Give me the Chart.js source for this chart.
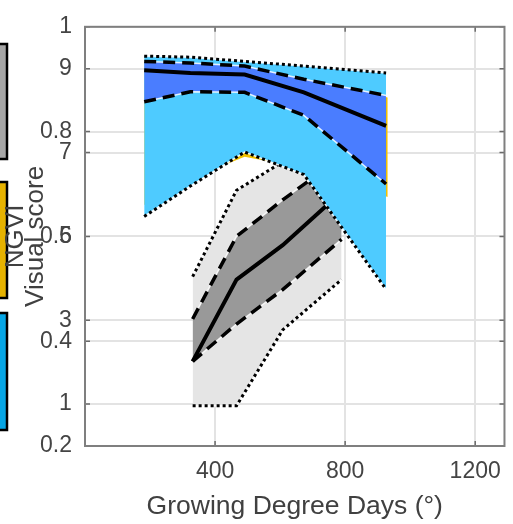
<!DOCTYPE html>
<html>
<head>
<meta charset="utf-8">
<script src="https://cdn.jsdelivr.net/npm/chart.js@4.4.1/dist/chart.umd.min.js"></script>
<style>
  html, body { margin: 0; padding: 0; background: #fff; }
  canvas { display: block; }
</style>
</head>
<body>
<canvas id="chart" width="513" height="524"></canvas>
<script>
// growing degree days of the sampling dates
const gddBlue = [182, 324, 491, 673, 926];
const gddGold = [182, 324, 491, 673, 931];
const gddGray = [331, 466, 608, 789];

// NGVI band (blue): min, lower quartile, median, upper quartile, max
const blueMin = [0.638, 0.696, 0.761, 0.718, 0.499];
const blueQ1 = [0.857, 0.876, 0.875, 0.831, 0.700];
const blueMed = [0.917, 0.912, 0.909, 0.875, 0.811];
const blueQ3 = [0.934, 0.931, 0.925, 0.900, 0.869];
const blueMax = [0.944, 0.942, 0.934, 0.925, 0.912];

// gold band, almost hidden under the blue one
const goldMin = [0.66, 0.71, 0.752, 0.73, 0.675];
const goldMax = [0.93, 0.925, 0.92, 0.9, 0.865];

// visual score band (gray)
const grayMin = [0.96, 0.96, 2.77, 3.97];
const grayQ1 = [2.02, 2.91, 3.73, 4.93];
const grayMed = [2.02, 3.97, 4.79, 6.06];
const grayQ3 = [3.03, 5.0, 5.87, 6.9];
const grayMax = [4.04, 6.1, 6.78, 6.15];

const gddTicks = [400, 800, 1200];
const ngviTicks = [0.2, 0.4, 0.6, 0.8, 1];
const scoreTicks = [1, 3, 5, 7, 9];
const legendColors = ['#a6a6a6', '#e6b200', '#06a6e6'];

const family = "'Liberation Sans', Arial, Helvetica, sans-serif";
const tickFont = { family: family, size: 23 };
const tickColor = '#444';
const gridOpts = { color: '#e3e3e3', lineWidth: 2, drawTicks: false };
const plain = (v) => String(Math.round(v * 10) / 10);

const datasets = [];
function pts(xs, ys) {
    return xs.map((x, i) => ({ x: x, y: ys[i] }));
}
function add(ds) {
    datasets.push(Object.assign({ pointRadius: 0, tension: 0, fill: false }, ds));
    return datasets.length - 1;
}
// filled area between two curves, no outline
function band(xs, lo, hi, color, axis, order) {
    const i = add({ data: pts(xs, lo), yAxisID: axis, borderWidth: 0, order: order });
    add({ data: pts(xs, hi), yAxisID: axis, borderWidth: 0, fill: { target: i }, backgroundColor: color, order: order });
}
function line(xs, ys, axis, order, width, dash) {
    if (dash.length) {
        // light line under the gaps of the dashes
        add({ data: pts(xs, ys), yAxisID: axis, borderColor: 'rgba(255,255,255,0.85)', borderWidth: 1.5, order: order + 0.5 });
    }
    add({ data: pts(xs, ys), yAxisID: axis, borderColor: '#000', borderWidth: width, borderDash: dash, order: order });
}

const dotted = [3, 3];
const dashed = [12, 7];

// bottom layer: gray
band(gddGray, grayMin, grayMax, '#e5e5e5', 'y2', 100);
band(gddGray, grayQ1, grayQ3, '#999999', 'y2', 90);
line(gddGray, grayMin, 'y2', 80, 3, dotted);
line(gddGray, grayMax, 'y2', 80, 3, dotted);
line(gddGray, grayQ1, 'y2', 80, 3.5, dashed);
line(gddGray, grayQ3, 'y2', 80, 3.5, dashed);
line(gddGray, grayMed, 'y2', 80, 4, []);
// gold
band(gddGold, goldMin, goldMax, '#f2c200', 'y', 70);
// top layer: blue
band(gddBlue, blueMin, blueMax, '#4ecbff', 'y', 60);
band(gddBlue, blueQ1, blueQ3, '#4a7dff', 'y', 50);
line(gddBlue, blueMin, 'y', 40, 3, dotted);
line(gddBlue, blueMax, 'y', 40, 3, dotted);
line(gddBlue, blueQ1, 'y', 40, 3.5, dashed);
line(gddBlue, blueQ3, 'y', 40, 3.5, dashed);
line(gddBlue, blueMed, 'y', 40, 4, []);

const framePlugin = {
    id: 'frame',
    beforeDraw(chart) {
        const ctx = chart.ctx;
        ctx.save();
        ctx.fillStyle = '#fff';
        ctx.fillRect(0, 0, chart.width, chart.height);
        // legend patches cut by the left edge of the figure
        const boxes = [[44, 159], [182, 298], [313, 430]];
        legendColors.forEach((c, i) => {
            const h = boxes[i][1] - boxes[i][0];
            ctx.fillStyle = c;
            ctx.fillRect(-4, boxes[i][0], 11, h);
            ctx.strokeStyle = '#000';
            ctx.lineWidth = 2.5;
            ctx.strokeRect(-4, boxes[i][0], 11, h);
        });
        ctx.restore();
    },
    afterDraw(chart) {
        const { ctx, chartArea: a, scales } = chart;
        ctx.save();
        // small inward tick marks on the box
        ctx.strokeStyle = '#6a6a6a';
        ctx.lineWidth = 1.5;
        ctx.beginPath();
        [[scales.y, ngviTicks], [scales.y2, scoreTicks]].forEach(([s, vals]) => {
            vals.forEach((v) => {
                const py = s.getPixelForValue(v);
                ctx.moveTo(a.left, py); ctx.lineTo(a.left + 5, py);
                ctx.moveTo(a.right, py); ctx.lineTo(a.right - 5, py);
            });
        });
        gddTicks.forEach((v) => {
            const px = scales.x.getPixelForValue(v);
            ctx.moveTo(px, a.bottom); ctx.lineTo(px, a.bottom - 5);
            ctx.moveTo(px, a.top); ctx.lineTo(px, a.top + 5);
        });
        ctx.stroke();
        ctx.strokeStyle = '#7f7f7f';
        ctx.lineWidth = 2;
        ctx.strokeRect(a.left, a.top, a.right - a.left, a.bottom - a.top);
        ctx.restore();
    }
};

new Chart(document.getElementById('chart'), {
    type: 'line',
    data: { datasets: datasets },
    options: {
        responsive: false,
        animation: false,
        devicePixelRatio: 1,
        layout: { padding: { left: 0, right: 3, top: 20, bottom: 0 } },
        plugins: {
            legend: { display: false },
            tooltip: { enabled: false }
        },
        scales: {
            x: {
                type: 'linear',
                min: 0,
                max: 1290,
                afterBuildTicks: (s) => { s.ticks = gddTicks.map((v) => ({ value: v })); },
                afterFit: (s) => { s.height = 78; },
                grid: gridOpts,
                border: { display: false },
                ticks: { font: tickFont, color: tickColor, padding: 12, maxRotation: 0, autoSkip: false, callback: (v) => String(v) },
                title: {
                    display: true,
                    text: 'Growing Degree Days (°)',
                    font: { family: family, size: 26.5 },
                    color: '#404040',
                    padding: { top: 0, bottom: 1 }
                }
            },
            y: {
                position: 'left',
                weight: 1,
                min: 0.2,
                max: 1,
                afterBuildTicks: (s) => { s.ticks = ngviTicks.map((v) => ({ value: v })); },
                afterFit: (s) => { s.width = 85; },
                grid: gridOpts,
                border: { display: false },
                ticks: { font: tickFont, color: tickColor, padding: 13, autoSkip: false, callback: plain },
                title: {
                    display: true,
                    text: ['NGVI', 'Visual score'],
                    font: { family: family, size: 26, lineHeight: 0.8 },
                    color: '#404040',
                    padding: { top: 5, bottom: 0 }
                }
            },
            // second axis sits on the same edge: zero width, labels mirrored back out
            y2: {
                position: 'left',
                weight: 0,
                min: 0,
                max: 10,
                afterBuildTicks: (s) => { s.ticks = scoreTicks.map((v) => ({ value: v })); },
                afterFit: (s) => { s.width = 0; },
                grid: gridOpts,
                border: { display: false },
                ticks: {
                    font: tickFont, color: tickColor, autoSkip: false, callback: plain,
                    mirror: true, crossAlign: 'far', padding: -26
                }
            }
        }
    },
    plugins: [framePlugin]
});
</script>
</body>
</html>
